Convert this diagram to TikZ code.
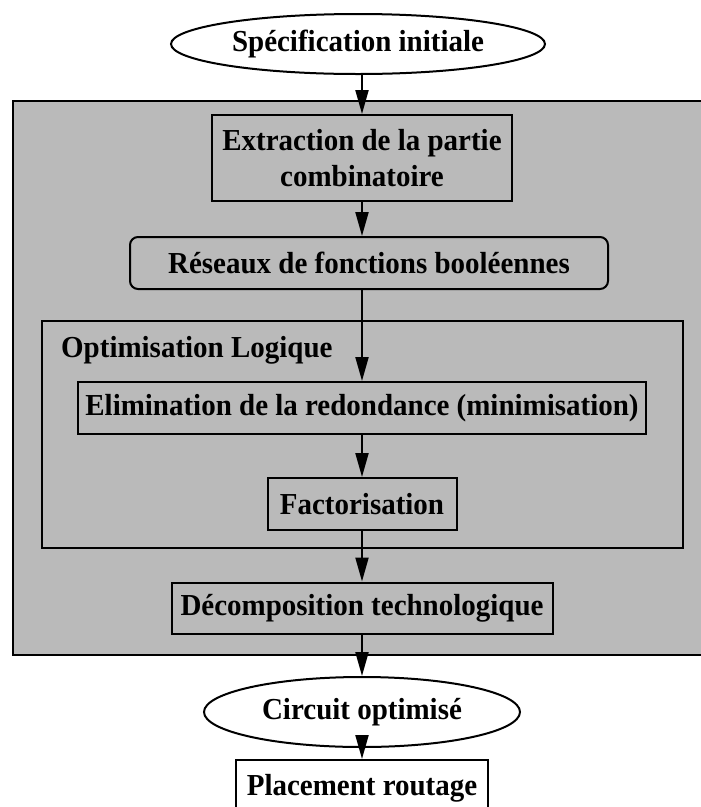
\documentclass[tikz,border=0pt]{standalone}
\usepackage{fontspec}
\setmainfont{Liberation Serif}[FakeStretch=0.95]
\usetikzlibrary{shapes.geometric,arrows.meta}
\begin{document}
\begin{tikzpicture}[x=1pt,y=-1pt,
  lbl/.style={font=\fontsize{30.5}{36}\selectfont\bfseries, align=center, inner sep=0pt},
  stepbox/.style={lbl, draw, line width=2pt, rectangle},
  oval/.style={lbl, draw, line width=2pt, ellipse, fill=white},
  flow/.style={line width=2pt, -{Triangle[length=24pt,width=13pt]}},
  shade/.style={fill=black!27}]
\useasboundingbox (0,0) rectangle (701,807);
\fill[white] (0,0) rectangle (701,807);

% synthesis frame and the logic optimisation block
\draw[shade, line width=2.5pt] (13,101) rectangle (712,655);
\draw[line width=2pt] (42,321) rectangle (683,548);
\node[lbl, anchor=west] (optlbl) at (61,350) {Optimisation Logique};

% steps
\node[oval, minimum width=374pt, minimum height=60pt] (spec) at (358,44) {Spécification initiale};
\node[stepbox, minimum width=300pt, minimum height=86pt] (extr) at (362,158)
  {Extraction de la partie\\combinatoire};
\node[stepbox, rounded corners=8pt, minimum width=478pt, minimum height=52pt] (res) at (369,263)
  {Réseaux de fonctions booléennes};
\node[stepbox, minimum width=568pt, minimum height=52pt] (elim) at (362,408)
  {Elimination de la redondance (minimisation)};
\node[stepbox, minimum width=189pt, minimum height=52pt] (fact) at (362,504) {Factorisation};
\node[stepbox, minimum width=381pt, minimum height=51pt] (deco) at (362,608)
  {Décomposition technologique};
\node[oval, minimum width=316pt, minimum height=70pt] (circ) at (362,712) {Circuit optimisé};
\node[stepbox, fill=white, minimum width=252pt, minimum height=56pt] (place) at (362,788)
  {Placement routage};

% flow arrows
\draw[flow] (extr |- spec.south) -- (extr.north);
\draw[flow] (extr.south) -- (extr.south |- res.north);
\draw[flow] (elim |- res.south) -- (elim.north);
\draw[flow] (elim.south) -- (fact.north);
\draw[flow] (fact.south) -- (deco.north);
\draw[flow] (deco.south) -- (circ.north);
\draw[flow] (circ.south) -- (place.north);
\end{tikzpicture}
\end{document}
